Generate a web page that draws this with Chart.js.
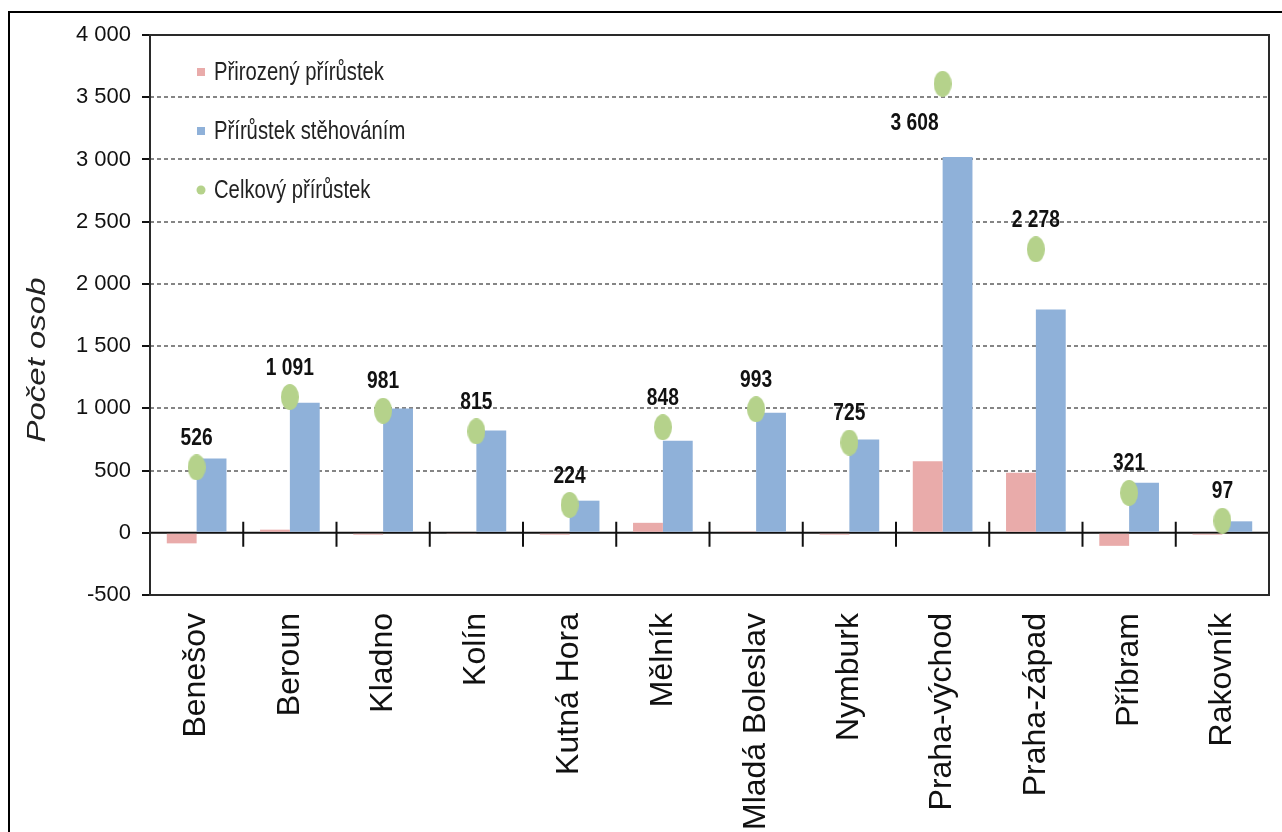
<!DOCTYPE html>
<html lang="cs">
<head>
<meta charset="utf-8">
<title>Přírůstek obyvatel podle okresů</title>
<script src="https://cdn.jsdelivr.net/npm/chart.js@4.4.1/dist/chart.umd.min.js"></script>
<style>
    html, body { margin: 0; padding: 0; background: #fff; overflow: hidden; }
    .frame { position: absolute; left: 8px; top: 11px; width: 1300px; height: 900px; border: 2px solid #000; }
    #chart { position: absolute; left: 0; top: 0; }
</style>
</head>
<body>
<div class="frame"></div>
<canvas id="chart" width="1282" height="880"></canvas>
<script>
const districts = ["Benešov", "Beroun", "Kladno", "Kolín", "Kutná Hora", "Mělník",
    "Mladá Boleslav", "Nymburk", "Praha-východ", "Praha-západ", "Příbram", "Rakovník"];
const seriesNames = ["Přirozený přírůstek", "Přírůstek stěhováním", "Celkový přírůstek"];
const naturalIncrease = [-85, 25, -15, -10, -15, 80, 10, -15, 575, 483, -105, -15];
const migrationIncrease = [596, 1045, 998, 821, 258, 740, 965, 749, 3020, 1795, 403, 92];
const totalIncrease = [526, 1091, 981, 815, 224, 848, 993, 725, 3608, 2278, 321, 97];
const yMin = -500;
const yMax = 4000;
const yStep = 500;

const FONT = '"Liberation Sans", Arial, sans-serif';
const PINK = "#e9abaa";
const BLUE = "#8fb1d9";
const GREEN = "#b5d28b";

function formatNumber(value) {
    const s = Math.abs(value).toString().replace(/\B(?=(\d{3})+(?!\d))/g, " ");
    return (value < 0 ? "-" : "") + s;
}

// squashed text, the source picture has narrow lettering
function drawNarrowText(ctx, text, x, y, sx) {
    ctx.save();
    ctx.translate(x, y);
    ctx.scale(sx, 1);
    ctx.fillText(text, 0, 0);
    ctx.restore();
}

function makeDot(color) {
    const c = document.createElement("canvas");
    c.width = 18;
    c.height = 26;
    const g = c.getContext("2d");
    g.fillStyle = color;
    g.beginPath();
    g.ellipse(9, 13, 9, 13, 0, 0, Math.PI * 2);
    g.fill();
    return c;
}

const axisDecor = {
    id: "axisDecor",
    beforeDatasetsDraw(chart) {
        const { ctx, chartArea: a, scales: { x, y } } = chart;
        const zeroY = y.getPixelForValue(0);
        ctx.save();
        ctx.strokeStyle = "#111";
        ctx.lineWidth = 2;
        ctx.beginPath();
        ctx.moveTo(a.left, zeroY);
        ctx.lineTo(a.right, zeroY);
        for (let i = 1; i < districts.length; i++) {
            const bx = (x.getPixelForValue(i - 1) + x.getPixelForValue(i)) / 2;
            ctx.moveTo(bx, zeroY - 11);
            ctx.lineTo(bx, zeroY + 14);
        }
        ctx.stroke();
        ctx.strokeStyle = "#2a2a2a";
        ctx.strokeRect(a.left, a.top, a.right - a.left, a.bottom - a.top);
        ctx.restore();
    }
};

const labelsAndLegend = {
    id: "labelsAndLegend",
    afterDatasetsDraw(chart) {
        const { ctx, chartArea: a } = chart;
        ctx.save();

        // value labels of the total series
        const meta = chart.getDatasetMeta(2);
        ctx.font = `bold 24px ${FONT}`;
        ctx.fillStyle = "#111";
        ctx.textAlign = "center";
        ctx.textBaseline = "middle";
        meta.data.forEach((pt, i) => {
            let lx = pt.x;
            let ly = pt.y - 29;
            if (pt.y - a.top < 60) {
                lx = pt.x - 28;
                ly = pt.y + 40;
            }
            drawNarrowText(ctx, formatNumber(totalIncrease[i]), lx, ly, 0.8);
        });

        // legend inside the plot
        ctx.font = `25px ${FONT}`;
        ctx.textAlign = "left";
        chart.data.datasets.forEach((ds, i) => {
            const cy = a.top + 37 + i * 59;
            const mx = a.left + 47;
            ctx.fillStyle = ds.legendColor;
            if (ds.type === "bar") {
                ctx.fillRect(mx, cy - 4, 8, 8);
            } else {
                ctx.beginPath();
                ctx.arc(mx + 4, cy, 4.5, 0, Math.PI * 2);
                ctx.fill();
            }
            ctx.fillStyle = "#222";
            drawNarrowText(ctx, ds.label, mx + 17, cy + 1, 0.81);
        });

        // y axis title
        ctx.translate(38, 360);
        ctx.rotate(-Math.PI / 2);
        ctx.scale(1, 0.8);
        ctx.font = `italic 33px ${FONT}`;
        ctx.textAlign = "center";
        ctx.fillStyle = "#222";
        ctx.fillText("Počet osob", 0, 0);
        ctx.restore();
    }
};

document.addEventListener("DOMContentLoaded", () => {
    const canvas = document.getElementById("chart");

    new Chart(canvas, {
        type: "bar",
        data: {
            labels: districts,
            datasets: [{
                type: "bar",
                label: seriesNames[0],
                data: naturalIncrease,
                backgroundColor: PINK,
                legendColor: PINK,
                categoryPercentage: 0.64,
                barPercentage: 1,
                order: 1
            }, {
                type: "bar",
                label: seriesNames[1],
                data: migrationIncrease,
                backgroundColor: BLUE,
                legendColor: BLUE,
                categoryPercentage: 0.64,
                barPercentage: 1,
                order: 1
            }, {
                type: "line",
                label: seriesNames[2],
                data: totalIncrease,
                showLine: false,
                pointStyle: makeDot(GREEN),
                pointRadius: 12,
                backgroundColor: GREEN,
                legendColor: GREEN,
                order: 0
            }]
        },
        options: {
            responsive: false,
            animation: false,
            layout: {
                padding: { left: 0, top: 35, right: 11, bottom: 0 }
            },
            plugins: {
                legend: { display: false },
                tooltip: { enabled: false }
            },
            scales: {
                x: {
                    afterFit: scale => { scale.height = 285; },
                    grid: { display: false, drawTicks: false },
                    border: { display: false },
                    ticks: {
                        autoSkip: false,
                        maxRotation: 90,
                        minRotation: 90,
                        padding: 18,
                        color: "#111",
                        font: { family: FONT, size: 32 }
                    }
                },
                y: {
                    min: yMin,
                    max: yMax,
                    afterFit: scale => { scale.width = 150; },
                    grid: {
                        color: ctx => {
                            const v = ctx.tick ? ctx.tick.value : null;
                            return (v === 0 || v === yMin || v === yMax) ? "rgba(0,0,0,0)" : "#858585";
                        },
                        lineWidth: 2,
                        drawTicks: true,
                        tickLength: 8,
                        tickColor: "#111",
                        tickWidth: 2,
                        tickBorderDash: []
                    },
                    border: { display: false, dash: [4, 3] },
                    ticks: {
                        stepSize: yStep,
                        padding: 11,
                        color: "#111",
                        font: { family: FONT, size: 22 },
                        callback: value => formatNumber(value)
                    }
                }
            }
        },
        plugins: [axisDecor, labelsAndLegend]
    });
});
</script>
</body>
</html>
